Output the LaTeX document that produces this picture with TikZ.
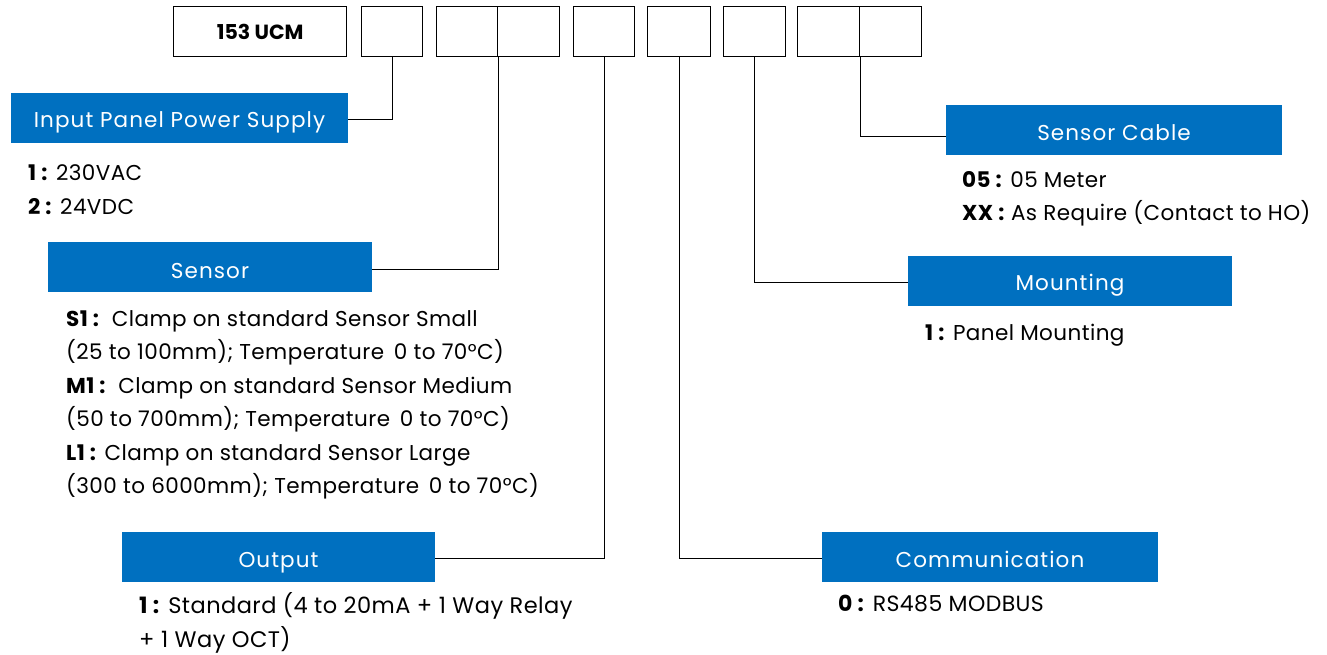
\documentclass[tikz,border=0pt]{standalone}
\usepackage{fontspec}
\setmainfont{Poppins}
\definecolor{hblue}{RGB}{0,112,192}
\begin{document}
\begin{tikzpicture}[x=1pt,y=-1pt,
  code/.style={draw=black,line width=1.3pt,minimum height=50pt,inner sep=0pt,anchor=north west},
  head/.style={fill=hblue,inner sep=0pt,minimum height=50pt,anchor=north west},
  htext/.style={text=white,font=\fontsize{21.5}{24}\selectfont\addfontfeatures{LetterSpace=5},anchor=base,inner sep=0pt},
  body/.style={font=\fontsize{21.5}{24}\selectfont\addfontfeatures{LetterSpace=2},anchor=base west,inner sep=0pt},
  bigbody/.style={body,font=\fontsize{22.5}{26}\selectfont\addfontfeatures{LetterSpace=2}},
  link/.style={line width=1.3pt}]
\useasboundingbox (0,0) rectangle (1327,654);
% code boxes
\node[code,minimum width=173pt] (b1) at (173,6) {\fontsize{20.5}{22}\selectfont\bfseries 153 UCM};
\node[code,minimum width=61pt] (b2) at (361,6) {};
\node[code,minimum width=61pt] (b3a) at (436,6) {};
\node[code,minimum width=62pt] (b3b) at (497,6) {};
\node[code,minimum width=61pt] (b4) at (573,6) {};
\node[code,minimum width=63pt] (b5) at (647,6) {};
\node[code,minimum width=62pt] (b6) at (723,6) {};
\node[code,minimum width=62pt] (b7a) at (797,6) {};
\node[code,minimum width=62pt] (b7b) at (859,6) {};
% headers
\node[head,minimum width=337pt] (inp) at (11,93) {};
\node[htext] (inpt) at (179.5,127) {Input Panel Power Supply};
\node[head,minimum width=324pt] (sen) at (48,242) {};
\node[htext] (sent) at (210,278) {Sensor};
\node[head,minimum width=313pt] (out) at (122,532) {};
\node[htext] (outt) at (278.5,567) {Output};
\node[head,minimum width=336pt] (com) at (822,532) {};
\node[htext] (comt) at (990,567) {Communication};
\node[head,minimum width=324pt] (mnt) at (908,256) {};
\node[htext] (mntt) at (1070,290) {Mounting};
\node[head,minimum width=336pt] (cab) at (946,105) {};
\node[htext] (cabt) at (1114,140) {Sensor Cable};
% connectors
\draw[link] (b2.south) |- ([yshift=-1.5pt]inp.east);
\draw[link] (b3a.south east) |- ([yshift=-2pt]sen.east);
\draw[link] (b4.south) |- ([yshift=-1pt]out.east);
\draw[link] (b5.south) |- ([yshift=-1pt]com.west);
\draw[link] (b6.south) |- ([yshift=-1pt]mnt.west);
\draw[link] (b7a.south east) |- ([yshift=-6pt]cab.west);
% texts
\node[body] (i1) at (28,180.5) {\textbf{1 :} 230VAC};
\node[body] (i2) at (28,214) {\textbf{2 :} 24VDC};
\node[body] (s1) at (66,326) {\textbf{S1 :}\ \ Clamp on standard Sensor Small};
\node[body] (s2) at (66,359.5) {(25 to 100mm); Temperature\ \,0 to 70°C)};
\node[body] (s3) at (66,393) {\textbf{M1 :}\ \ Clamp on standard Sensor Medium};
\node[body] (s4) at (66,426.5) {(50 to 700mm); Temperature\ \,0 to 70°C)};
\node[body] (s5) at (66,460) {\textbf{L1 :} Clamp on standard Sensor Large};
\node[body] (s6) at (66,493.5) {(300 to 6000mm); Temperature\ \,0 to 70°C)};
\node[bigbody] (o1) at (139,613) {\textbf{1 :} Standard (4 to 20mA + 1 Way Relay};
\node[bigbody] (o2) at (139,647) {+ 1 Way OCT)};
\node[body,font=\fontsize{22}{26}\selectfont\addfontfeatures{LetterSpace=2}] (c1) at (838,611) {\textbf{0 :} RS485 MODBUS};
\node[body] (m1) at (925,340) {\textbf{1 :} Panel Mounting};
\node[body] (k1) at (962,187) {\textbf{05 :} 05 Meter};
\node[body] (k2) at (962,220) {\textbf{XX :} As Require (Contact to HO)};
\end{tikzpicture}
\end{document}
